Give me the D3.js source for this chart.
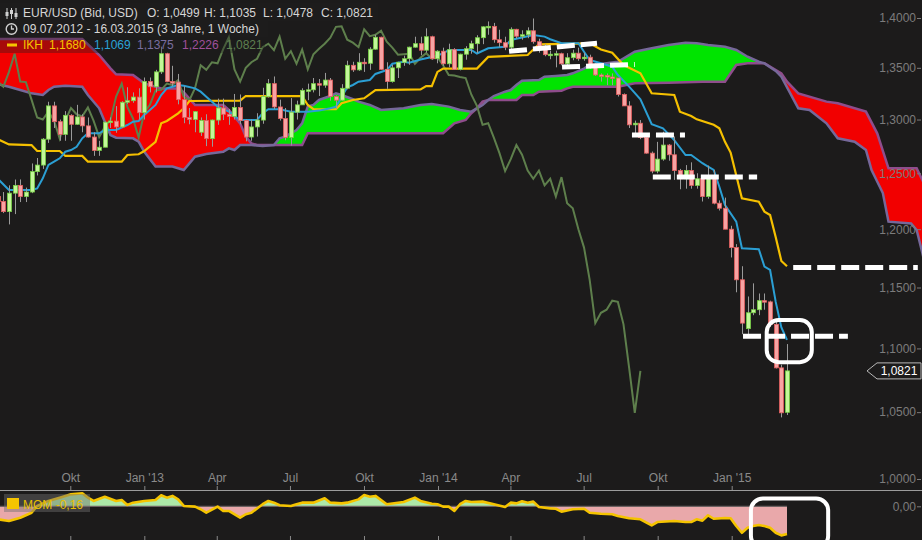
<!DOCTYPE html>
<html>
<head>
<meta charset="utf-8">
<script src="https://cdn.jsdelivr.net/npm/d3@7"></script>
<style>
body { margin: 0; background: #1c1b1b; }
svg { display: block; font-family: "Liberation Sans", Arial, sans-serif; }
</style>
</head>
<body>
<svg id="chart" width="922" height="540"></svg>
<script>
// weekly EUR/USD candles, index 0 = week of 09.07.2012, 140 = week of 16.03.2015
const opens = [1.2290,1.2245,1.2155,1.2320,1.2390,1.2290,1.2330,1.2515,1.2575,1.2815,
 1.3130,1.2980,1.2860,1.3040,1.2955,1.3025,1.2940,1.2835,1.2710,1.2740,
 1.2975,1.2985,1.2930,1.3165,1.3180,1.3215,1.3065,1.3365,1.3315,1.3460,
 1.3640,1.3365,1.3360,1.3190,1.3020,1.3000,1.2880,1.2990,1.2820,1.2995,
 1.3110,1.3050,1.3030,1.3115,1.2990,1.2835,1.2930,1.2995,1.3220,1.3345,
 1.3120,1.3010,1.2830,1.3070,1.3140,1.3280,1.3285,1.3345,1.3330,1.3380,
 1.3220,1.3185,1.3300,1.3525,1.3480,1.3555,1.3545,1.3685,1.3805,1.3485,
 1.3365,1.3500,1.3555,1.3590,1.3705,1.3740,1.3675,1.3810,1.3590,1.3665,
 1.3540,1.3680,1.3485,1.3635,1.3690,1.3740,1.3800,1.3910,1.3915,1.3780,
 1.3750,1.3705,1.3885,1.3815,1.3830,1.3870,1.3760,1.3700,1.3630,1.3635,
 1.3640,1.3540,1.3600,1.3645,1.3590,1.3605,1.3525,1.3430,1.3425,1.3410,
 1.3400,1.3240,1.3130,1.2950,1.2965,1.2830,1.2685,1.2520,1.2630,1.2760,
 1.2670,1.2525,1.2450,1.2525,1.2390,1.2450,1.2290,1.2465,1.2230,1.2185,
 1.2000,1.1840,1.1565,1.1160,1.1290,1.1315,1.1390,1.1380,1.1195,1.0845,
 1.0499];
const highs = [1.2330,1.2330,1.2390,1.2443,1.2444,1.2370,1.2590,1.2640,1.2825,1.3170,
 1.3170,1.3000,1.3080,1.3050,1.3140,1.3050,1.3020,1.2880,1.2800,1.2980,
 1.3020,1.3128,1.3175,1.3310,1.3260,1.3300,1.3405,1.3405,1.3480,1.3710,
 1.3650,1.3520,1.3440,1.3320,1.3110,1.3080,1.3020,1.3050,1.3000,1.3200,
 1.3200,1.3100,1.3245,1.3240,1.3000,1.3000,1.3060,1.3305,1.3390,1.3415,
 1.3190,1.3110,1.3205,1.3180,1.3300,1.3345,1.3400,1.3390,1.3450,1.3400,
 1.3230,1.3340,1.3570,1.3560,1.3645,1.3595,1.3705,1.3830,1.3810,1.3555,
 1.3530,1.3560,1.3620,1.3710,1.3810,1.3810,1.3895,1.3820,1.3675,1.3700,
 1.3740,1.3695,1.3640,1.3715,1.3770,1.3825,1.3915,1.3965,1.3950,1.3880,
 1.3810,1.3905,1.3890,1.3875,1.3905,1.3995,1.3790,1.3735,1.3670,1.3670,
 1.3650,1.3645,1.3680,1.3700,1.3650,1.3630,1.3545,1.3445,1.3445,1.3445,
 1.3400,1.3250,1.3175,1.2990,1.2995,1.2860,1.2700,1.2790,1.2885,1.2770,
 1.2840,1.2540,1.2575,1.2600,1.2500,1.2455,1.2570,1.2530,1.2255,1.2280,
 1.2030,1.1870,1.1680,1.1425,1.1535,1.1450,1.1450,1.1390,1.1240,1.0870,
 1.1035];
const lows = [1.2165,1.2142,1.2042,1.2133,1.2240,1.2240,1.2320,1.2480,1.2540,1.2780,
 1.2920,1.2800,1.2800,1.2800,1.2950,1.2880,1.2830,1.2660,1.2660,1.2740,
 1.2920,1.2875,1.2920,1.3150,1.3160,1.3000,1.3000,1.3260,1.3260,1.3440,
 1.3360,1.3320,1.3145,1.2965,1.2955,1.2880,1.2845,1.2750,1.2745,1.2950,
 1.2995,1.2950,1.3000,1.2955,1.2795,1.2800,1.2840,1.2960,1.3210,1.3100,
 1.2990,1.2805,1.2755,1.3000,1.3140,1.3185,1.3260,1.3225,1.3305,1.3180,
 1.3100,1.3180,1.3290,1.3460,1.3470,1.3460,1.3480,1.3680,1.3480,1.3295,
 1.3355,1.3400,1.3520,1.3530,1.3700,1.3625,1.3650,1.3580,1.3545,1.3520,
 1.3505,1.3480,1.3475,1.3580,1.3640,1.3645,1.3735,1.3830,1.3750,1.3705,
 1.3675,1.3675,1.3790,1.3780,1.3795,1.3740,1.3650,1.3615,1.3585,1.3505,
 1.3525,1.3525,1.3575,1.3570,1.3570,1.3490,1.3420,1.3365,1.3330,1.3330,
 1.3220,1.3130,1.2920,1.2860,1.2815,1.2680,1.2500,1.2500,1.2615,1.2615,
 1.2440,1.2355,1.2360,1.2360,1.2360,1.2245,1.2270,1.2220,1.2165,1.2000,
 1.1755,1.1460,1.1115,1.1100,1.1270,1.1270,1.1315,1.1175,1.0840,1.0460,
 1.0478];
const closes = [1.2245,1.2155,1.2320,1.2390,1.2290,1.2330,1.2515,1.2575,1.2815,1.3130,
 1.2980,1.2860,1.3040,1.2955,1.3025,1.2940,1.2835,1.2710,1.2740,1.2975,
 1.2985,1.2930,1.3165,1.3180,1.3215,1.3065,1.3365,1.3315,1.3460,1.3640,
 1.3365,1.3360,1.3190,1.3020,1.3000,1.3075,1.2990,1.2820,1.2995,1.3110,
 1.3050,1.3030,1.3115,1.2990,1.2835,1.2930,1.2995,1.3220,1.3345,1.3120,
 1.3010,1.2830,1.3070,1.3140,1.3280,1.3285,1.3345,1.3330,1.3380,1.3220,
 1.3185,1.3300,1.3525,1.3480,1.3555,1.3545,1.3685,1.3805,1.3485,1.3365,
 1.3500,1.3555,1.3590,1.3705,1.3740,1.3675,1.3810,1.3590,1.3665,1.3540,
 1.3680,1.3485,1.3635,1.3690,1.3740,1.3800,1.3910,1.3915,1.3780,1.3750,
 1.3705,1.3885,1.3815,1.3830,1.3870,1.3760,1.3700,1.3630,1.3635,1.3640,
 1.3540,1.3600,1.3645,1.3590,1.3605,1.3525,1.3430,1.3425,1.3410,1.3400,
 1.3240,1.3130,1.2950,1.2965,1.2830,1.2685,1.2520,1.2630,1.2760,1.2670,
 1.2525,1.2450,1.2525,1.2390,1.2450,1.2290,1.2465,1.2230,1.2185,1.2000,
 1.1840,1.1565,1.1205,1.1290,1.1315,1.1390,1.1380,1.1195,1.0845,1.0495,
 1.0821];

// Ichimoku lines: [bar index, price]
const tenkan = [[0,1.2451],[2,1.2348],[6,1.2348],[7,1.2363],[8,1.2454],[9,1.2576],[10,1.2606],[11,1.2637],[12,1.2698],[13,1.2714],[14,1.2744],[15,1.2823],[16,1.2870],[18,1.2870],[19,1.2901],[21,1.2901],[23,1.2948],[24,1.2980],[25,1.2986],[26,1.3043],[28,1.3139],[29,1.3235],[30,1.3299],[31,1.3315],[32,1.3332],[33,1.3325],[35,1.3299],[36,1.3267],[37,1.3219],[39,1.3123],[41,1.3075],[43,1.2996],[46,1.2996],[47,1.3060],[48,1.3098],[50,1.3098],[52,1.3075],[55,1.3075],[57,1.3085],[59,1.3107],[60,1.3123],[62,1.3309],[63,1.3332],[64,1.3364],[66,1.3381],[67,1.3440],[69,1.3478],[70,1.3540],[72,1.3560],[73,1.3550],[75,1.3583],[77,1.3608],[79,1.3642],[80,1.3677],[84,1.3677],[85,1.3642],[87,1.3694],[90,1.3710],[91,1.3777],[95,1.3828],[97,1.3811],[98,1.3785],[100,1.3744],[103,1.3744],[104,1.3660],[105,1.3577],[107,1.3545],[109,1.3511],[110,1.3429],[112,1.3316],[114,1.3194],[116,1.2956],[118,1.2917],[120,1.2807],[122,1.2668],[123,1.2668],[125,1.2592],[126,1.2561],[127,1.2530],[128,1.2378],[129,1.2213],[131,1.2067],[132,1.1834],[135,1.1826],[136,1.1677],[137,1.1648],[138,1.1380],[139,1.1170],[140,1.1069]];
const kijun = [[0,1.2816],[2,1.2766],[6,1.2760],[7,1.2705],[11,1.2705],[12,1.2659],[15,1.2659],[16,1.2606],[22,1.2606],[23,1.2668],[25,1.2675],[26,1.2705],[28,1.2791],[29,1.2964],[30,1.2986],[32,1.3059],[33,1.3107],[34,1.3177],[43,1.3180],[44,1.3225],[54,1.3225],[55,1.3139],[56,1.3098],[60,1.3098],[61,1.3155],[63,1.3187],[65,1.3203],[67,1.3283],[75,1.3289],[76,1.3321],[77,1.3321],[78,1.3460],[79,1.3493],[85,1.3493],[87,1.3608],[94,1.3627],[96,1.3734],[105,1.3744],[107,1.3682],[109,1.3649],[111,1.3528],[114,1.3447],[116,1.3252],[120,1.3235],[121,1.3075],[123,1.3034],[124,1.3002],[127,1.2950],[128,1.2917],[129,1.2790],[130,1.2690],[132,1.2273],[135,1.2243],[136,1.2155],[137,1.2125],[138,1.1929],[139,1.1725],[140,1.1680]];
const senkouA = [[0,1.3339],[2,1.3315],[4,1.3283],[6,1.3251],[8,1.3235],[9,1.3283],[10,1.3315],[12,1.3325],[15,1.3315],[16,1.3235],[18,1.3107],[19,1.2980],[20,1.2854],[21,1.2829],[24,1.2823],[25,1.2791],[26,1.2698],[28,1.2561],[31,1.2561],[33,1.2530],[35,1.2652],[37,1.2677],[40,1.2698],[41,1.2729],[42,1.2714],[43,1.2760],[45,1.2760],[47,1.2751],[49,1.2760],[50,1.2823],[51,1.2839],[53,1.2901],[54,1.2964],[55,1.3123],[56,1.3139],[57,1.3187],[59,1.3225],[60,1.3251],[61,1.3235],[63,1.3194],[64,1.3171],[66,1.3139],[68,1.3091],[72,1.3107],[75,1.3139],[77,1.3148],[80,1.3123],[82,1.3091],[84,1.3075],[85,1.3107],[86,1.3139],[87,1.3187],[88,1.3225],[90,1.3267],[91,1.3283],[92,1.3332],[93,1.3374],[96,1.3381],[97,1.3413],[99,1.3420],[101,1.3429],[102,1.3446],[104,1.3493],[105,1.3528],[107,1.3538],[110,1.3560],[113,1.3660],[116,1.3694],[119,1.3727],[122,1.3750],[124,1.3744],[126,1.3727],[129,1.3710],[131,1.3677],[133,1.3610],[135,1.3560],[136,1.3544],[138,1.3470],[139,1.3413],[142,1.3107],[144,1.3091],[147,1.2964],[149,1.2823],[152,1.2791],[154,1.2714],[155,1.2530],[157,1.2321],[158,1.2066],[162,1.2051],[163,1.1993],[164,1.1795],[166,1.1375]];
const senkouB = [[0,1.3787],[15,1.3787],[18,1.3627],[20,1.3495],[21,1.3436],[24,1.3429],[26,1.3348],[29,1.3299],[32,1.3299],[33,1.3263],[35,1.3139],[40,1.3139],[41,1.3091],[43,1.2964],[44,1.2839],[45,1.2776],[46,1.2760],[54,1.2760],[55,1.2870],[79,1.2870],[81,1.2964],[83,1.2996],[84,1.3060],[85,1.3107],[86,1.3172],[87,1.3187],[92,1.3187],[93,1.3235],[95,1.3235],[96,1.3267],[100,1.3277],[101,1.3299],[102,1.3315],[110,1.3315],[113,1.3348],[119,1.3354],[125,1.3364],[129,1.3364],[130,1.3446],[131,1.3528],[133,1.3545],[136,1.3545],[139,1.3446],[140,1.3364],[142,1.3251],[147,1.3171],[149,1.3155],[154,1.3075],[156,1.2870],[158,1.2545],[163,1.2545],[164,1.2439],[166,1.2226]];
const chikouShift = 26;

// momentum panel: [bar index, value]
const momentum = [[0,-0.075],[2,-0.085],[4,-0.066],[6,-0.037],[7,0.002],[9,0.031],[11,0.050],[13,0.069],[15,0.075],[16,0.050],[17,0.031],[19,0.055],[21,0.031],[22,0.036],[23,0.008],[24,0.021],[26,0.031],[28,0.036],[29,0.064],[30,0.050],[31,0.060],[32,0.040],[33,0.002],[35,-0.002],[36,-0.017],[37,-0.037],[39,-0.002],[40,-0.027],[41,-0.027],[43,-0.066],[44,-0.046],[45,-0.037],[47,0.012],[48,0.031],[49,0.021],[50,0.006],[52,0.002],[53,0.012],[54,0.021],[56,0.021],[58,0.046],[59,0.021],[61,0.017],[62,0.021],[64,0.040],[65,0.065],[66,0.055],[67,0.060],[69,0.012],[71,0.021],[72,0.025],[74,0.050],[75,0.031],[77,0.015],[78,0.012],[79,-0.002],[80,-0.002],[81,-0.027],[82,0.012],[83,0.031],[84,0.025],[86,0.027],[88,0.012],[90,-0.004],[91,0.021],[92,0.017],[93,0.029],[94,0.021],[95,0.027],[96,-0.004],[98,-0.012],[99,-0.014],[100,-0.031],[102,-0.017],[104,-0.014],[105,-0.037],[107,-0.043],[109,-0.046],[110,-0.056],[112,-0.069],[114,-0.075],[116,-0.110],[117,-0.091],[120,-0.085],[122,-0.091],[123,-0.091],[124,-0.075],[125,-0.083],[126,-0.052],[127,-0.072],[129,-0.068],[130,-0.069],[131,-0.114],[132,-0.153],[133,-0.124],[134,-0.114],[135,-0.108],[136,-0.114],[137,-0.124],[138,-0.153],[139,-0.168],[140,-0.160]];

// hand drawn marks on the chart: [index1, price1, index2, price2]
const dashMarks = [[90.7,1.3664,106.3,1.3744],[100.1,1.3508,113.0,1.3533],[112.5,1.2854,121.9,1.2854],[116.2,1.2466,134.7,1.2466],[141.1,1.1669,163.2,1.1669],[132.2,1.1099,150.8,1.1099]];
const priceBox = [136.4,1.1230,144.4,1.0890];
const momBox = [133.6,0.045,147.3,-0.24];

const priceTicks = [1.0,1.05,1.1,1.15,1.2,1.25,1.3,1.35,1.4];
const timeTicks = [new Date(2012,9,1),new Date(2013,0,1),new Date(2013,3,1),new Date(2013,6,1),new Date(2013,9,1),new Date(2014,0,1),new Date(2014,3,1),new Date(2014,6,1),new Date(2014,9,1),new Date(2015,0,1)];
const timeLabels = ["Okt","Jan '13","Apr","Jul","Okt","Jan '14","Apr","Jul","Okt","Jan '15"];

const legendValues = [["1,1680","#f5c400"],["1,1069","#2aa3d8"],["1,1375","#7a6ea0"],["1,2226","#a0509a"],["1,0821","#5f8050"]];

var svg = d3.select("#chart");
svg.append("rect").attr("width",922).attr("height",540).attr("fill","#1c1b1b");

var x = d3.scaleLinear().domain([0,140]).range([-2.3,787]);
var xTime = d3.scaleTime().domain([new Date(2012,9,1), new Date(2015,0,1)]).range([70.3,731.7]);
var y = d3.scaleLog().domain([1.0,1.4]).range([479,18]);
var yMom = d3.scaleLinear().domain([0,-0.16]).range([506.3,534]);

var comma = v => v.toFixed(4).replace(".", ",");

var defs = svg.append("defs");
defs.append("clipPath").attr("id","clipMain").append("rect").attr("x",0).attr("y",0).attr("width",922).attr("height",489);
defs.append("clipPath").attr("id","clipMom").append("rect").attr("x",0).attr("y",491).attr("width",922).attr("height",49);

var ptLine = d3.line().x(d => x(d[0])).y(d => y(d[1]));
var bPx = senkouB.map(d => [x(d[0]), y(d[1])]);
var first = bPx[0], last = bPx[bPx.length-1];
var abovePts = [[-40,-50],[-40,first[1]]].concat(bPx,[[980,last[1]],[980,-50]]);
var belowPts = [[-40,600],[-40,first[1]]].concat(bPx,[[980,last[1]],[980,600]]);
defs.append("clipPath").attr("id","clipAboveB").append("path").attr("d", d3.line()(abovePts) + "Z");
defs.append("clipPath").attr("id","clipBelowB").append("path").attr("d", d3.line()(belowPts) + "Z");

var main = svg.append("g").attr("clip-path","url(#clipMain)");

// cloud
var cloudPath = ptLine(senkouA.concat(senkouB.slice().reverse())) + "Z";
main.append("g").attr("clip-path","url(#clipAboveB)")
  .append("path").attr("d", cloudPath).attr("fill","#00e400");
main.append("g").attr("clip-path","url(#clipBelowB)")
  .append("path").attr("d", cloudPath).attr("fill","#f20000");

main.append("path").datum(senkouB).attr("d", ptLine)
  .attr("fill","none").attr("stroke","#8f4d8c").attr("stroke-width",2.5);
main.append("path").datum(senkouA).attr("d", ptLine)
  .attr("fill","none").attr("stroke","#76689a").attr("stroke-width",2.5);

// chikou
main.append("path").datum(closes)
  .attr("d", d3.line().x((d,i) => x(i - chikouShift)).y(d => y(d)))
  .attr("fill","none").attr("stroke","#5e7f4c").attr("stroke-width",2);

main.append("path").datum(kijun).attr("d", ptLine)
  .attr("fill","none").attr("stroke","#f5c000").attr("stroke-width",2.2);
main.append("path").datum(tenkan).attr("d", ptLine)
  .attr("fill","none").attr("stroke","#2b9fd4").attr("stroke-width",2);

// candles
var candles = main.selectAll("g.candle").data(closes.map((c,i) => ({i:i, o:opens[i], h:highs[i], l:lows[i], c:c})))
  .enter().append("g").attr("class","candle");
candles.append("line")
  .attr("x1", d => Math.round(x(d.i)) + 0.5).attr("x2", d => Math.round(x(d.i)) + 0.5)
  .attr("y1", d => y(d.h)).attr("y2", d => y(d.l))
  .attr("stroke","#9a9a9a").attr("stroke-width",1);
candles.append("rect")
  .attr("x", d => Math.round(x(d.i)) - 1.5)
  .attr("width", 4)
  .attr("y", d => y(Math.max(d.o, d.c)))
  .attr("height", d => Math.max(1.5, y(Math.min(d.o, d.c)) - y(Math.max(d.o, d.c))))
  .attr("fill", d => d.c >= d.o ? "#c3f79a" : "#f7a3a3")
  .attr("stroke", d => d.c >= d.o ? "#76cf45" : "#e45f5f")
  .attr("stroke-width", 0.8);

// hand drawn marks
main.selectAll("line.mark").data(dashMarks).enter().append("line")
  .attr("x1", d => x(d[0])).attr("y1", d => y(d[1]))
  .attr("x2", d => x(d[2])).attr("y2", d => y(d[3]))
  .attr("stroke","#ffffff").attr("stroke-width",5).attr("stroke-dasharray","18 6");
svg.append("rect")
  .attr("x", x(priceBox[0])).attr("y", y(priceBox[1]))
  .attr("width", x(priceBox[2]) - x(priceBox[0])).attr("height", y(priceBox[3]) - y(priceBox[1]))
  .attr("rx",12).attr("fill","none").attr("stroke","#ffffff").attr("stroke-width",4);

// separator + time axis
svg.append("line").attr("x1",0).attr("x2",922).attr("y1",490.5).attr("y2",490.5)
  .attr("stroke","#9c9c9c").attr("stroke-width",1);

var tAxis = svg.append("g").attr("transform","translate(0,473)")
  .call(d3.axisBottom(xTime).tickValues(timeTicks).tickFormat((d,i) => timeLabels[i]).tickSize(0).tickPadding(0));
tAxis.select(".domain").remove();
tAxis.selectAll("text").attr("fill","#8a8a8a").attr("font-size",12).attr("font-family","Liberation Sans, Arial, sans-serif");

[486, 536].forEach(function(ty) {
  var g = svg.append("g").attr("transform","translate(0," + ty + ")")
    .call(d3.axisBottom(xTime).tickValues(timeTicks).tickFormat("").tickSize(4));
  g.select(".domain").remove();
  g.selectAll("line").attr("stroke","#8a8a8a");
});

// price axis
var yAxis = svg.append("g").attr("transform","translate(921,0)")
  .call(d3.axisLeft(y).tickValues(priceTicks).tickFormat(comma).tickSize(4).tickPadding(1));
yAxis.select(".domain").remove();
yAxis.selectAll("line").attr("stroke","#7c7c7c");
yAxis.selectAll("text").attr("fill","#7c7c7c").attr("font-size",12).attr("font-family","Liberation Sans, Arial, sans-serif");

// last price label
var lastY = y(closes[closes.length-1]);
svg.append("path")
  .attr("d", "M867," + lastY + " L877," + (lastY-8) + " L921," + (lastY-8) + " L921," + (lastY+8) + " L877," + (lastY+8) + "Z")
  .attr("fill","#1c1b1b").attr("stroke","#b8b8b8").attr("stroke-width",1);
svg.append("text").attr("x",899).attr("y",lastY+4.5).attr("text-anchor","middle")
  .attr("fill","#ffffff").attr("font-size",12).text(comma(closes[closes.length-1]));

// momentum panel
var mom = svg.append("g").attr("clip-path","url(#clipMom)");
var momX = d => x(d[0]);
var momArea = d3.area().x(momX).y0(yMom(0)).y1(d => yMom(d[1]));
defs.append("clipPath").attr("id","clipPos").append("rect").attr("x",0).attr("y",480).attr("width",922).attr("height",yMom(0)-480);
defs.append("clipPath").attr("id","clipNeg").append("rect").attr("x",0).attr("y",yMom(0)).attr("width",922).attr("height",100);
mom.append("path").datum(momentum).attr("d", momArea).attr("fill","#ade9a8").attr("clip-path","url(#clipPos)");
mom.append("path").datum(momentum).attr("d", momArea).attr("fill","#e9a8aa").attr("clip-path","url(#clipNeg)");
mom.append("line").attr("x1",x(0)).attr("x2",x(140)).attr("y1",yMom(0)).attr("y2",yMom(0))
  .attr("stroke","#6e6262").attr("stroke-width",1.2);
mom.append("path").datum(momentum)
  .attr("d", d3.line().x(momX).y(d => yMom(d[1])))
  .attr("fill","none").attr("stroke","#f5c400").attr("stroke-width",2.6).attr("stroke-linejoin","round");

var mAxis = svg.append("g").attr("transform","translate(921,0)")
  .call(d3.axisLeft(yMom).tickValues([0]).tickFormat(d => "0,00").tickSize(4).tickPadding(1));
mAxis.select(".domain").remove();
mAxis.selectAll("line").attr("stroke","#7c7c7c");
mAxis.selectAll("text").attr("fill","#7c7c7c").attr("font-size",12).attr("font-family","Liberation Sans, Arial, sans-serif");

svg.append("rect").attr("x",4).attr("y",494).attr("width",86).attr("height",18).attr("fill","rgba(110,110,110,0.45)");
svg.append("rect").attr("x",7).attr("y",498).attr("width",12).attr("height",11).attr("fill","#f5c400");
svg.append("text").attr("x",23).attr("y",509).attr("fill","#e8c000").attr("font-size",12)
  .text("MOM  " + momentum[momentum.length-1][1].toFixed(2).replace(".", ","));

svg.append("rect")
  .attr("x", x(momBox[0])).attr("y", yMom(momBox[1]))
  .attr("width", x(momBox[2]) - x(momBox[0])).attr("height", yMom(momBox[3]) - yMom(momBox[1]))
  .attr("rx",12).attr("fill","none").attr("stroke","#ffffff").attr("stroke-width",4);

// top legend
var leg = svg.append("g");
leg.append("rect").attr("x",0).attr("y",3).attr("width",378).attr("height",18).attr("fill","rgba(30,30,30,0.45)");
leg.append("rect").attr("x",0).attr("y",21).attr("width",268).attr("height",16).attr("fill","rgba(30,30,30,0.45)");
leg.append("rect").attr("x",0).attr("y",37).attr("width",265).attr("height",16).attr("fill","rgba(30,30,30,0.35)");

// small candle icon
[7, 11.5, 16].forEach(function(ix, k) {
  leg.append("line").attr("x1",ix).attr("x2",ix).attr("y1",8).attr("y2",19).attr("stroke","#d0d0d0").attr("stroke-width",1);
  leg.append("rect").attr("x",ix-1.5).attr("y",[12,10,13][k]).attr("width",3).attr("height",4).attr("fill","#d0d0d0");
});
leg.append("circle").attr("cx",11.5).attr("cy",29).attr("r",5.3).attr("fill","none").attr("stroke","#d0d0d0").attr("stroke-width",1.4);
leg.append("path").attr("d","M11.5,25.5 L11.5,29 L14,29").attr("fill","none").attr("stroke","#d0d0d0").attr("stroke-width",1.3);
leg.append("rect").attr("x",7).attr("y",43.5).attr("width",10).attr("height",3).attr("fill","#f5c400");

var row1 = [["EUR/USD (Bid, USD)",23],["O: 1,0499",147],["H: 1,1035",204],["L: 1,0478",263],["C: 1,0821",321]];
row1.forEach(r => leg.append("text").attr("x",r[1]).attr("y",17).attr("fill","#d6d6d6").attr("font-size",12).text(r[0]));
leg.append("text").attr("x",23).attr("y",33).attr("fill","#d6d6d6").attr("font-size",12)
  .text("09.07.2012 - 16.03.2015 (3 Jahre, 1 Woche)");
leg.append("text").attr("x",23).attr("y",49).attr("fill","#f5c400").attr("font-size",12).text("IKH");
var lx = [49, 94, 137, 182, 226];
legendValues.forEach((v,k) => leg.append("text").attr("x",lx[k]).attr("y",49).attr("fill",v[1]).attr("font-size",12).text(v[0]));
</script>
</body>
</html>
